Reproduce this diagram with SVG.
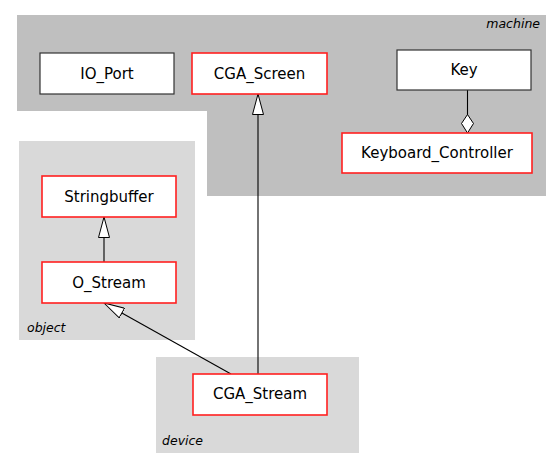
<svg xmlns="http://www.w3.org/2000/svg" width="552" height="453" viewBox="0 0 552 453">
<defs>
<style>
.pkgA{fill:#bfbfbf;stroke:none}
.pkgB{fill:#d9d9d9;stroke:none}
.box{fill:#fff;stroke:#333;stroke-width:1.2}
.red{fill:#fff;stroke:#ff2020;stroke-width:1.6}
.t{font-family:"DejaVu Sans",sans-serif;font-size:15px;fill:#000;text-anchor:middle}
.lbl{font-family:"DejaVu Sans",sans-serif;font-size:12.5px;font-style:italic;fill:#000}
.edge{stroke:#000;stroke-width:1.1;fill:none}
</style>
<marker id="inh" markerWidth="22" markerHeight="12" refX="21" refY="6" orient="auto" markerUnits="userSpaceOnUse" viewBox="0 0 22 12">
<path d="M21,6 L0.5,0.5 L0.5,11.5 Z" fill="#fff" stroke="#000" stroke-width="1"/>
</marker>
<marker id="agg" markerWidth="20" markerHeight="13" refX="19" refY="6.5" orient="auto" markerUnits="userSpaceOnUse" viewBox="0 0 20 13">
<path d="M19,6.5 L9.5,0.5 L0.5,6.5 L9.5,12.5 Z" fill="#fff" stroke="#000" stroke-width="1"/>
</marker>
</defs>
<g id="pkg-machine">
<path class="pkgA" d="M17,15 H546 V196 H207 V111 H17 Z"/>
<text class="lbl" x="540" y="28" text-anchor="end">machine</text>
</g>
<g id="pkg-object">
<rect class="pkgB" x="19" y="141" width="176" height="199"/>
<text class="lbl" x="27" y="332">object</text>
</g>
<g id="pkg-device">
<rect class="pkgB" x="156" y="357" width="203" height="96"/>
<text class="lbl" x="162" y="445">device</text>
</g>
<g id="connectors">
<line class="edge" x1="258" y1="374" x2="258" y2="94" marker-end="url(#inh)"/>
<line class="edge" x1="231" y1="374" x2="104" y2="303" marker-end="url(#inh)"/>
<line class="edge" x1="104" y1="262" x2="104" y2="217" marker-end="url(#inh)"/>
<line class="edge" x1="467.5" y1="90" x2="467.5" y2="133" marker-end="url(#agg)"/>
</g>
<g id="IO_Port">
<rect class="box" x="40" y="53" width="134" height="41"/>
<text class="t" x="107" y="79">IO_Port</text>
</g>
<g id="CGA_Screen">
<rect class="red" x="192" y="53" width="135" height="41"/>
<text class="t" x="259.5" y="79">CGA_Screen</text>
</g>
<g id="Key">
<rect class="box" x="397" y="50" width="134" height="40"/>
<text class="t" x="464" y="75">Key</text>
</g>
<g id="Keyboard_Controller">
<rect class="red" x="342" y="133" width="190" height="40"/>
<text class="t" x="437" y="158">Keyboard_Controller</text>
</g>
<g id="Stringbuffer">
<rect class="red" x="42" y="176" width="134" height="41"/>
<text class="t" x="109" y="202">Stringbuffer</text>
</g>
<g id="O_Stream">
<rect class="red" x="42" y="262" width="134" height="41"/>
<text class="t" x="109" y="288">O_Stream</text>
</g>
<g id="CGA_Stream">
<rect class="red" x="193" y="374" width="134" height="41"/>
<text class="t" x="260" y="399">CGA_Stream</text>
</g>
</svg>
